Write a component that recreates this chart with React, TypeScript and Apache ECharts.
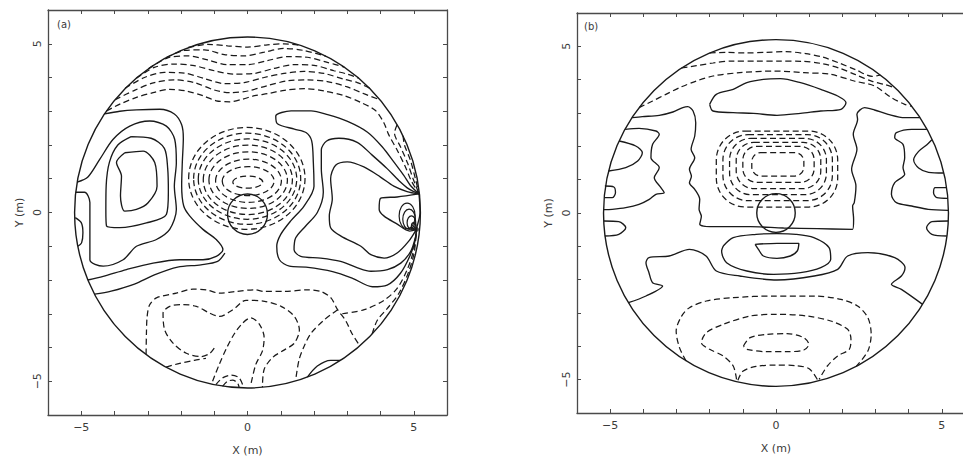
import React, { useEffect, useRef } from "react";
import * as echarts from "echarts";

type P = [number, number];

// ---------- axes ----------
const axisMin = -6;
const axisMax = 6;
const axisStep = 1;
const tickValues = [-5, 0, 5];
const tickLabels = ["\u22125", "0", "5"];
const xName = "X (m)";
const yName = "Y (m)";
const panelLabels = ["(a)", "(b)"];

// ---------- panel (a) ----------
// outlines: [cx, cy, rx, ry]
const aOutlines = [
  [0, 0, 5.2, 5.2],
  [0, -0.05, 0.6, 0.6],
];
// dashed closed rings round the central minimum: [cx, cy, rx, ry]
const aRings = [
  [0.01, 0.9, 0.45, 0.18],
  [0.02, 0.93, 0.78, 0.43],
  [0.03, 0.94, 0.99, 0.64],
  [0.02, 0.96, 1.18, 0.84],
  [0.01, 0.97, 1.34, 1.03],
  [0.0, 0.99, 1.48, 1.19],
  [-0.01, 1.0, 1.61, 1.35],
  [-0.02, 1.01, 1.75, 1.51],
];
// small solid loops at the right-edge source point
const aSourceLoops = [
  [5.0, -0.4, 0.07, 0.1],
  [4.93, -0.3, 0.13, 0.2],
  [4.86, -0.2, 0.19, 0.3],
  [4.8, -0.1, 0.24, 0.38],
];
const aSourcePoint: P[] = [[5.08, -0.5]];

// dashed contours (a)
const aT1: P[] = [[-4.24,3.01],[-3.84,3.21],[-3.34,3.41],[-2.84,3.55],[-2.34,3.65],[-1.84,3.6],[-1.34,3.46],[-0.94,3.31],[-0.54,3.28],[-0.14,3.36],[0.21,3.46],[0.6,3.52],[1.11,3.62],[1.71,3.67],[2.31,3.6],[2.91,3.46],[3.41,3.26],[3.85,3.02],[4.1,2.66],[4.25,2.3],[4.5,1.85],[4.75,1.35],[4.92,0.95],[5.16,0.55]];
const aT2: P[] = [[-3.98,3.34],[-3.4,3.62],[-2.8,3.85],[-2.2,3.93],[-1.6,3.85],[-1.0,3.63],[-0.5,3.55],[0,3.6],[0.6,3.76],[1.2,3.9],[1.8,3.93],[2.4,3.88],[3.0,3.72],[3.5,3.52],[3.98,3.34]];
const aT3: P[] = [[-3.68,3.68],[-3.1,4.0],[-2.5,4.15],[-1.9,4.13],[-1.3,3.97],[-0.7,3.82],[-0.1,3.85],[0.5,4.0],[1.1,4.12],[1.7,4.18],[2.3,4.12],[2.9,3.95],[3.3,3.85],[3.68,3.68]];
const aT4: P[] = [[-3.34,3.98],[-2.8,4.3],[-2.2,4.4],[-1.6,4.35],[-1.0,4.2],[-0.4,4.1],[0.2,4.12],[0.8,4.27],[1.4,4.38],[2.0,4.36],[2.6,4.2],[3.0,4.1],[3.34,3.98]];
const aT5: P[] = [[-2.98,4.26],[-2.4,4.58],[-1.8,4.64],[-1.2,4.52],[-0.6,4.38],[0,4.38],[0.6,4.5],[1.2,4.62],[1.8,4.6],[2.4,4.45],[2.91,4.31]];
const aT6: P[] = [[-2.44,4.59],[-1.9,4.8],[-1.3,4.82],[-0.7,4.68],[-0.1,4.64],[0.5,4.75],[1.1,4.86],[1.7,4.8],[2.36,4.63]];
const aT7: P[] = [[-1.78,4.89],[-1.2,4.98],[-0.6,4.94],[0,4.9],[0.6,4.97],[1.1,5.0],[1.61,4.95]];
const aE2: P[] = [[4.5,2.6],[4.42,2.35],[4.6,1.95],[4.82,1.45],[4.98,1.0],[5.16,0.55]];
const aE3: P[] = [[4.68,2.27],[4.72,2.0],[4.9,1.55],[5.05,1.0],[5.16,0.55]];
const aB1: P[] = [[-3.05,-4.2],[-3.04,-3.6],[-3.02,-3.1],[-2.95,-2.75],[-2.74,-2.53],[-2.14,-2.39],[-1.64,-2.27],[-1.24,-2.29],[-0.84,-2.39],[-0.34,-2.34],[0.21,-2.29],[0.51,-2.34],[1.11,-2.34],[1.81,-2.29],[2.21,-2.34],[2.51,-2.53],[2.71,-2.88],[2.95,-3.2],[3.15,-3.6],[3.38,-3.95]];
const aB2: P[] = [[-1.0,-4.02],[-1.14,-4.18],[-1.4,-4.27],[-1.84,-4.17],[-2.24,-3.87],[-2.49,-3.48],[-2.54,-2.98],[-2.34,-2.78],[-1.94,-2.73],[-1.54,-2.78],[-1.14,-2.98],[-0.84,-3.08],[-0.44,-2.88],[-0.04,-2.6],[0.51,-2.63],[1.01,-2.78],[1.41,-3.08],[1.56,-3.48],[1.41,-3.87],[1.11,-4.07],[0.75,-4.3],[0.5,-4.65],[0.45,-5.18]];
const aB3: P[] = [[2.85,-3.0],[3.51,-2.88],[4.11,-2.6],[4.5,-2.25],[4.8,-1.7],[5.0,-1.1],[5.08,-0.5]];
const aD1: P[] = [[3.75,-3.6],[3.9,-3.2],[4.2,-2.85],[4.55,-2.4],[4.85,-1.75],[5.02,-1.15],[5.08,-0.5]];
const aB6: P[] = [[-1.05,-5.0],[-0.85,-4.5],[-0.62,-4.0],[-0.4,-3.6],[-0.15,-3.28],[0.1,-3.12],[0.35,-3.3],[0.5,-3.7],[0.45,-4.1],[0.25,-4.5],[0.1,-5.1]];
const aB8: P[] = [[2.71,-2.88],[2.31,-3.18],[1.91,-3.58],[1.7,-3.97],[1.55,-4.37],[1.45,-4.95]];
const aB9: P[] = [[-2.45,-4.58],[-2.04,-4.47],[-1.6,-4.38],[-1.25,-4.32]];
const aF1: P[] = [[-0.95,-5.1],[-0.75,-4.9],[-0.5,-4.82],[-0.25,-4.9],[-0.12,-5.18]];
const aF2: P[] = [[-0.75,-5.15],[-0.6,-5.0],[-0.45,-4.97],[-0.3,-5.05],[-0.25,-5.19]];
const aDashed = [aT1, aT2, aT3, aT4, aT5, aT6, aT7, aE2, aE3, aB1, aB2, aB3, aD1, aB6, aB8, aB9, aF1, aF2];

// solid contours (a)
const aI1: P[] = [[-3.69,1.77],[-3.14,1.82],[-2.79,1.48],[-2.72,0.78],[-2.99,0.29],[-3.34,0.09],[-3.69,0.04],[-3.82,0.49],[-3.79,1.08],[-3.94,1.48],[-3.69,1.77]];
const aI2: P[] = [[-3.5,2.25],[-2.9,2.2],[-2.5,1.9],[-2.4,1.3],[-2.38,0.6],[-2.44,-0.06],[-3.04,-0.31],[-3.84,-0.45],[-4.24,-0.4],[-4.26,0.1],[-4.25,0.8],[-4.15,1.5],[-3.9,2.0],[-3.5,2.25]];
const aI3: P[] = [[-5.12,0.9],[-4.8,1.05],[-4.44,1.58],[-4.04,2.17],[-3.54,2.56],[-2.94,2.71],[-2.44,2.56],[-2.19,2.17],[-2.14,1.48],[-2.2,0.78],[-2.14,0.09],[-2.34,-0.5],[-2.74,-0.8],[-3.34,-1.0],[-3.74,-1.4],[-4.34,-1.59],[-4.74,-1.4],[-4.74,-0.5],[-4.74,0.3],[-4.9,0.6],[-5.17,0.6]];
const aL0: P[] = [[-4.3,2.92],[-3.84,3.0],[-3.34,3.04],[-2.64,3.06],[-2.2,2.92],[-1.98,2.6],[-1.93,2.2],[-1.96,1.5],[-1.98,0.8],[-1.92,0.2],[-1.74,-0.1],[-1.34,-0.5],[-0.94,-0.8],[-0.74,-1.1],[-0.94,-1.3],[-1.34,-1.4],[-2.04,-1.4],[-2.84,-1.5],[-3.64,-1.69],[-4.34,-1.89],[-4.8,-2.0]];
const aLf: P[] = [[-4.6,-2.42],[-4.1,-2.33],[-3.4,-2.12],[-2.8,-1.85],[-2.1,-1.62],[-1.4,-1.55],[-0.9,-1.45],[-0.68,-1.2]];
const aEdgeLoop: P[] = [[-5.18,-0.15],[-5.0,-0.3],[-4.95,-0.6],[-4.99,-0.9],[-5.1,-1.0]];
const aR0: P[] = [[5.16,0.55],[4.9,0.8],[4.7,1.1],[4.4,1.5],[4.05,1.95],[3.61,2.38],[3.01,2.7],[2.41,2.9],[1.91,3.01],[1.31,3.01],[0.85,2.86],[0.9,2.63],[1.41,2.47],[1.76,2.37],[1.93,2.12],[1.98,1.48],[2.0,0.78],[1.7,0.19],[1.3,-0.25],[1.0,-0.65],[0.88,-1.0],[0.96,-1.4],[1.26,-1.59],[1.76,-1.62],[2.56,-1.75],[3.16,-1.95],[3.76,-2.2],[4.2,-2.15],[4.6,-1.8],[4.9,-1.25],[5.05,-0.8],[5.08,-0.5],[5.19,0.0],[5.16,0.55]];
const aR1: P[] = [[5.16,0.55],[4.85,0.7],[4.55,0.95],[4.2,1.3],[3.75,1.7],[3.3,2.08],[2.75,2.2],[2.38,2.12],[2.22,1.85],[2.22,1.3],[2.28,0.6],[2.1,0.0],[1.75,-0.4],[1.45,-0.75],[1.4,-1.1],[1.6,-1.3],[2.2,-1.35],[2.8,-1.45],[3.31,-1.64],[3.71,-1.74],[4.21,-1.69],[4.61,-1.5],[4.91,-1.15],[5.06,-0.7],[5.08,-0.5]];
const aR2: P[] = [[5.16,0.55],[4.8,0.62],[4.4,0.78],[4.0,1.05],[3.5,1.35],[3.0,1.5],[2.65,1.4],[2.5,1.0],[2.55,0.4],[2.46,-0.1],[2.5,-0.45],[2.81,-0.7],[3.41,-1.0],[3.71,-1.25],[4.11,-1.35],[4.5,-1.2],[4.85,-0.85],[5.08,-0.5]];
const aShelf: P[] = [[5.08,-0.5],[4.88,-0.55],[4.48,-0.33],[4.1,-0.1],[3.96,0.1],[4.0,0.42],[4.5,0.46],[5.16,0.55]];
const aHump: P[] = [[1.8,-4.88],[2.1,-4.55],[2.5,-4.38],[2.8,-4.38]];
const aSolid = [aI1, aI2, aI3, aL0, aLf, aEdgeLoop, aR0, aR1, aR2, aShelf, aHump];

// ---------- panel (b) ----------
const bOutlines = [
  [0, 0, 5.2, 5.2],
  [0, 0, 0.58, 0.58],
];
// dashed rounded boxes: [xmin, xmax, ymin, ymax]
const bBoxes = [
  [-0.73, 0.84, 1.11, 1.81],
  [-1.0, 1.15, 0.92, 2.0],
  [-1.2, 1.35, 0.73, 2.12],
  [-1.4, 1.52, 0.55, 2.24],
  [-1.6, 1.7, 0.37, 2.35],
  [-1.8, 1.86, 0.18, 2.46],
];
const bT1: P[] = [[-4.13,3.16],[-3.72,3.36],[-3.32,3.56],[-2.91,3.76],[-2.4,3.96],[-1.9,4.11],[-1.09,4.21],[-0.07,4.26],[0.84,4.21],[1.65,4.16],[2.36,3.96],[2.97,3.81],[3.48,3.46],[3.88,3.26],[4.1,3.2]];
const bT2: P[] = [[-2.85,4.35],[-2.4,4.42],[-1.9,4.5],[-1.3,4.56],[-0.6,4.56],[0.1,4.56],[0.8,4.55],[1.4,4.48],[1.9,4.35],[2.4,4.15],[2.9,3.95],[3.3,3.85],[3.6,3.75]];
const bT3: P[] = [[-2.0,4.8],[-1.5,4.82],[-0.9,4.8],[-0.3,4.82],[0.3,4.84],[0.9,4.78],[1.4,4.68],[1.9,4.5],[2.4,4.3],[2.9,4.1],[3.15,4.14]];
const bB1: P[] = [[-2.71,-4.44],[-2.91,-4.04],[-3.01,-3.54],[-2.85,-3.1],[-2.61,-2.84],[-2.1,-2.64],[-1.29,-2.54],[-0.07,-2.49],[1.15,-2.49],[1.96,-2.59],[2.46,-2.79],[2.77,-3.14],[2.87,-3.64],[2.77,-4.14],[2.42,-4.6]];
const bB2: P[] = [[-1.19,-4.99],[-1.29,-4.59],[-1.59,-4.29],[-2.0,-4.09],[-2.25,-3.89],[-2.1,-3.59],[-1.59,-3.34],[-0.78,-3.09],[0.03,-3.04],[0.94,-3.09],[1.65,-3.24],[2.16,-3.49],[2.26,-3.79],[2.21,-4.09],[1.86,-4.29],[1.55,-4.59],[1.3,-4.99]];
const bB3: P[] = [[-1.15,-5.02],[-1.0,-4.75],[-0.6,-4.6],[0.0,-4.56],[0.6,-4.58],[1.0,-4.67],[1.25,-5.0]];
const bB4: P[] = [[-0.98,-3.99],[-0.78,-3.74],[-0.27,-3.64],[0.33,-3.62],[0.84,-3.74],[0.99,-3.94],[0.84,-4.11],[0.33,-4.16],[-0.27,-4.16],[-0.88,-4.09],[-0.98,-3.99]];
const bDashed = [bT1, bT2, bT3, bB1, bB2, bB3, bB4];

const bPi: P[] = [[-4.34,2.86],[-4.03,2.89],[-3.52,2.93],[-3.11,3.03],[-2.81,3.16],[-2.66,3.19],[-2.5,3.06],[-2.42,2.71],[-2.45,2.31],[-2.56,1.91],[-2.45,1.66],[-2.61,1.31],[-2.55,1.1],[-2.61,0.91],[-2.45,0.71],[-2.3,0.41],[-2.32,0.11],[-2.25,-0.1],[-2.3,-0.34],[-2.0,-0.41],[-0.78,-0.41],[0.23,-0.45],[1.25,-0.47],[2.31,-0.49],[2.34,-0.19],[2.31,0.21],[2.36,0.31],[2.41,0.81],[2.28,1.31],[2.44,1.91],[2.33,2.36],[2.46,2.81],[2.44,2.96],[2.67,3.16],[2.97,3.09],[3.38,2.96],[3.88,2.86],[4.34,2.86]];
const bLens: P[] = [[-2.0,3.26],[-1.8,3.56],[-1.29,3.71],[-0.88,3.91],[-0.38,4.01],[0.13,4.03],[0.74,3.91],[1.35,3.71],[1.86,3.51],[2.11,3.31],[1.96,3.11],[1.35,3.06],[0.74,2.99],[0.03,2.93],[-0.68,2.99],[-1.29,3.01],[-1.9,3.06],[-2.0,3.26]];
const bLb: P[] = [[-4.55,2.51],[-4.13,2.54],[-3.62,2.46],[-3.52,2.36],[-3.72,2.06],[-3.77,1.66],[-3.52,1.36],[-3.67,1.06],[-3.47,0.76],[-3.37,0.61],[-3.62,0.56],[-3.82,0.41],[-4.13,0.26],[-4.53,0.16],[-4.94,0.11],[-5.19,0.1]];
const bLn: P[] = [[-5.05,1.26],[-4.53,1.36],[-4.17,1.56],[-4.03,1.81],[-4.23,2.01],[-4.73,2.16]];
const bLs1: P[] = [[-5.16,0.81],[-4.89,0.78],[-4.84,0.61],[-4.94,0.46],[-5.18,0.46]];
const bLs2: P[] = [[-5.19,-0.24],[-4.74,-0.26],[-4.53,-0.44],[-4.74,-0.64],[-5.16,-0.69]];
const bRb: P[] = [[4.55,2.51],[4.09,2.51],[3.63,2.41],[3.58,2.26],[3.83,2.06],[3.88,1.66],[3.83,1.36],[3.88,1.16],[3.58,0.91],[3.48,0.56],[3.63,0.31],[4.09,0.21],[4.59,0.11],[5.19,0.08]];
const bRn: P[] = [[5.05,1.2],[4.6,1.22],[4.3,1.35],[4.15,1.6],[4.3,1.85],[4.55,2.05],[4.7,2.2]];
const bRs1: P[] = [[5.14,0.76],[4.8,0.76],[4.75,0.61],[4.85,0.46],[5.18,0.44]];
const bRs2: P[] = [[5.19,-0.24],[4.7,-0.26],[4.54,-0.44],[4.7,-0.64],[5.15,-0.69]];
const bS: P[] = [[-4.45,-2.69],[-3.92,-2.49],[-3.42,-2.19],[-3.72,-2.09],[-3.83,-1.79],[-3.92,-1.49],[-3.83,-1.34],[-3.22,-1.29],[-2.61,-1.09],[-2.11,-1.29],[-1.8,-1.74],[-1.09,-1.89],[0.03,-2.01],[1.15,-1.89],[1.86,-1.69],[2.16,-1.29],[2.77,-1.19],[3.58,-1.34],[3.89,-1.64],[3.78,-1.89],[3.48,-2.14],[3.78,-2.29],[4.42,-2.74]];
const bLoop1: P[] = [[-1.59,-0.99],[-1.29,-0.74],[-0.6,-0.64],[0.03,-0.62],[0.6,-0.64],[1.14,-0.74],[1.6,-1.04],[1.65,-1.39],[1.35,-1.64],[0.74,-1.79],[-0.07,-1.84],[-0.88,-1.74],[-1.49,-1.49],[-1.64,-1.14],[-1.59,-0.99]];
const bLoop2: P[] = [[-0.63,-0.94],[0.03,-0.91],[0.69,-0.91],[0.64,-1.14],[0.43,-1.29],[0.03,-1.36],[-0.38,-1.29],[-0.53,-1.09],[-0.63,-0.94]];
const bSolid = [bPi, bLens, bLb, bLn, bLs1, bLs2, bRb, bRn, bRs1, bRs2, bS, bLoop1, bLoop2];

// ---------- styling ----------
const INK = "#1a1a1a";
const FRAME = "#4a4a4a";
const TXT = "#3a3a3a";
const FONT = "DejaVu Sans";
const DASH = [6, 3.5];
const grids = [
  { left: 48, top: 10, width: 399, height: 405 },
  { left: 577, top: 13, width: 398, height: 400 },
];

function fmtTick(v: number) {
  for (let i = 0; i < tickValues.length; i++) {
    if (Math.abs(v - tickValues[i]) < 1e-6) return tickLabels[i];
  }
  return "";
}

function lineSeries(pts: P[], g: number, dashed: boolean) {
  return {
    type: "line",
    xAxisIndex: g * 2,
    yAxisIndex: g * 2,
    data: pts,
    showSymbol: false,
    symbol: "none",
    smooth: 0.3,
    silent: true,
    lineStyle: { color: INK, width: dashed ? 1.25 : 1.35, type: dashed ? DASH : "solid" },
    z: 3,
  };
}

function ellipseSeries(data: number[][], g: number, dashed: boolean, width = 1.3) {
  return {
    type: "custom",
    xAxisIndex: g * 2,
    yAxisIndex: g * 2,
    data,
    silent: true,
    clip: false,
    z: 4,
    renderItem: (_p: any, api: any) => {
      const c = api.coord([api.value(0), api.value(1)]);
      const s = api.size([api.value(2), api.value(3)]);
      return {
        type: "ellipse",
        shape: { cx: c[0], cy: c[1], rx: s[0], ry: s[1] },
        style: { fill: "none", stroke: INK, lineWidth: width, lineDash: dashed ? DASH : null },
      };
    },
  };
}

function boxSeries(data: number[][], g: number) {
  return {
    type: "custom",
    xAxisIndex: g * 2,
    yAxisIndex: g * 2,
    data,
    silent: true,
    clip: false,
    z: 4,
    renderItem: (_p: any, api: any) => {
      const tl = api.coord([api.value(0), api.value(3)]);
      const br = api.coord([api.value(1), api.value(2)]);
      const w = br[0] - tl[0];
      const h = br[1] - tl[1];
      return {
        type: "rect",
        shape: { x: tl[0], y: tl[1], width: w, height: h, r: Math.min(w, h) * 0.38 },
        style: { fill: "none", stroke: INK, lineWidth: 1.25, lineDash: DASH },
      };
    },
  };
}

function xAxes(g: number) {
  const base = {
    gridIndex: g,
    type: "value",
    min: axisMin,
    max: axisMax,
    interval: axisStep,
    splitLine: { show: false },
    axisLine: { show: true, onZero: false, lineStyle: { color: FRAME, width: 1.3 } },
    axisTick: { show: true, inside: true, length: 4, lineStyle: { color: FRAME, width: 1 } },
  };
  return [
    {
      ...base,
      position: "bottom",
      axisLabel: { formatter: fmtTick, color: TXT, fontSize: 11, fontFamily: FONT, margin: 7 },
      name: xName,
      nameLocation: "middle",
      nameGap: 30,
      nameTextStyle: { color: TXT, fontSize: 11, fontFamily: FONT },
    },
    { ...base, position: "top", axisLabel: { show: false } },
  ];
}

function yAxes(g: number) {
  const base = {
    gridIndex: g,
    type: "value",
    min: axisMin,
    max: axisMax,
    interval: axisStep,
    splitLine: { show: false },
    axisLine: { show: true, onZero: false, lineStyle: { color: FRAME, width: 1.3 } },
    axisTick: { show: true, inside: true, length: 4, lineStyle: { color: FRAME, width: 1 } },
  };
  return [
    {
      ...base,
      position: "left",
      axisLabel: { formatter: fmtTick, color: TXT, fontSize: 11, fontFamily: FONT, rotate: 90, margin: 5 },
      name: yName,
      nameLocation: "middle",
      nameRotate: 90,
      nameGap: 23,
      nameTextStyle: { color: TXT, fontSize: 11, fontFamily: FONT },
    },
    { ...base, position: "right", axisLabel: { show: false } },
  ];
}

export default function App() {
  const ref = useRef<HTMLDivElement>(null);
  useEffect(() => {
    if (!ref.current) return;
    const chart = echarts.init(ref.current, undefined, { renderer: "svg" });
    const series: any[] = [];
    aDashed.forEach((p) => series.push(lineSeries(p, 0, true)));
    aSolid.forEach((p) => series.push(lineSeries(p, 0, false)));
    series.push(ellipseSeries(aRings, 0, true, 1.25));
    series.push(ellipseSeries(aOutlines, 0, false, 1.4));
    series.push(ellipseSeries(aSourceLoops, 0, false, 1.2));
    series.push({
      type: "scatter",
      xAxisIndex: 0,
      yAxisIndex: 0,
      data: aSourcePoint,
      symbolSize: 5,
      itemStyle: { color: INK },
      silent: true,
      z: 5,
    });
    bDashed.forEach((p) => series.push(lineSeries(p, 1, true)));
    bSolid.forEach((p) => series.push(lineSeries(p, 1, false)));
    series.push(boxSeries(bBoxes, 1));
    series.push(ellipseSeries(bOutlines, 1, false, 1.4));

    chart.setOption({
      animation: false,
      backgroundColor: "#ffffff",
      grid: grids.map((g) => ({ ...g, containLabel: false, outerBoundsMode: "none" })),
      xAxis: [...xAxes(0), ...xAxes(1)],
      yAxis: [...yAxes(0), ...yAxes(1)],
      graphic: [
        { type: "text", left: 57, top: 19, style: { text: panelLabels[0], fill: TXT, font: `10px ${FONT}` } },
        { type: "text", left: 584, top: 21, style: { text: panelLabels[1], fill: TXT, font: `10px ${FONT}` } },
      ],
      series,
    });
    return () => chart.dispose();
  }, []);
  return (
    <div
      ref={ref}
      style={{ position: "fixed", left: 0, top: 0, width: 963, height: 459, background: "#fff" }}
    />
  );
}
